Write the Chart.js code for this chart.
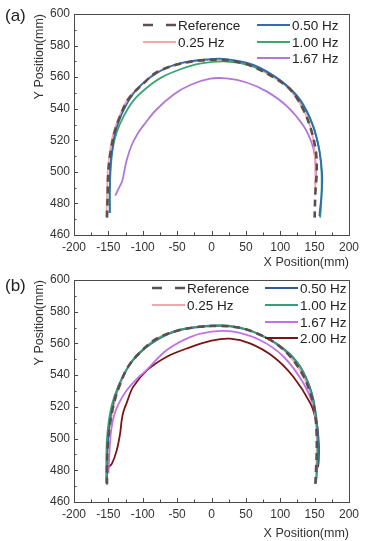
<!DOCTYPE html>
<html>
<head>
<meta charset="utf-8">
<script src="https://cdn.jsdelivr.net/npm/chart.js@4.4.1/dist/chart.umd.min.js"></script>
<style>
  body { margin: 0; background: #fff; }
  .panel { position: relative; width: 369px; }
  .tag { position: absolute; left: 5px; top: 6px; font: 17px "Liberation Sans", Arial, sans-serif; color: #222; }
</style>
</head>
<body>
<div class="panel" style="height:270px"><span class="tag">(a)</span><canvas id="chartA" width="369" height="270"></canvas></div>
<div class="panel" style="height:271px"><span class="tag">(b)</span><canvas id="chartB" width="369" height="271"></canvas></div>
<script>
// Axis ranges and ticks
const xRange = [-200, 200];
const yRange = [460, 600];
const xStep = 50;
const yStep = 20;

// Series labels
const labels = ['Reference', '0.25 Hz', '0.50 Hz', '1.00 Hz', '1.67 Hz', '2.00 Hz'];

// Panel (a) trajectories
const refXA = [-152, -151, -150, -147, -141, -135, -121, -99, -80, -50, -17, 13, 40, 61, 90, 115, 134, 146, 152, 153, 151, 150];
const refYA = [471, 485, 500, 512, 525, 533, 546, 556, 563, 568, 570.5, 571, 569.5, 566.5, 560, 552, 539, 525, 512, 500, 486, 471];
const hz025XA = [-153, -152, -151, -148, -143, -136, -122, -100, -80, -50, -17, 13, 40, 62, 90, 114, 133, 145, 150, 151, 151];
const hz025YA = [472, 485, 500, 512, 524, 533, 546, 556, 563, 568, 570.5, 571, 569.5, 566.5, 560, 552, 540, 527, 513, 500, 485];
const hz050XA = [-148, -148, -147, -144, -140, -128, -109, -80, -46, -2, 22, 61, 100, 129, 148, 157, 161, 160, 158, 157];
const hz050YA = [474, 490, 504, 515, 525, 539, 552, 562.5, 568.8, 571.4, 571.4, 567.8, 558, 545.7, 529, 513, 498, 485, 477, 472];
const hz100XA = [-148, -148, -147, -144, -138, -128, -114, -95, -72, -45, -17, 22, 61, 95, 124, 144, 156, 160, 160, 159, 158];
const hz100YA = [474, 488, 499, 514, 525, 535, 545, 553, 560, 565, 568.5, 569.9, 566.7, 559.4, 547.8, 533, 516, 500, 485, 476, 471];
const hz167XA = [-140, -135, -130, -127, -123, -116, -107, -97, -80, -55, -31, -2, 22, 51, 80, 110, 134, 146, 151, 152, 151];
const hz167YA = [485, 489.5, 494, 500, 508, 517, 524.5, 530.5, 539.5, 549, 555, 559, 559.2, 556.6, 551, 541.5, 529, 518, 508, 499, 492];

// Panel (b) trajectories
const refXB = [-152, -152, -151, -148, -142, -135, -121, -100, -80, -50, -17, 13, 40, 62, 90, 114, 133, 145, 151, 153, 153, 152, 151];
const refYB = [471, 480, 495, 508, 522, 532, 545.5, 556, 563, 568, 570.5, 571, 570, 567, 561, 552, 540, 527, 514, 502, 490, 480, 471];
const hz025XB = [-153, -152, -150, -147, -141, -134, -120, -100, -80, -50, -17, 13, 40, 62, 90, 114, 133, 145, 151, 153, 153, 152];
const hz025YB = [472, 485, 498, 510, 523, 533, 546, 556, 563, 568, 570.5, 571, 570, 567, 561, 552, 540, 527, 514, 502, 490, 478];
const hz050XB = [-152, -152, -150, -146, -140, -128, -110, -80, -45, 0, 25, 60, 100, 128, 145, 152, 155, 155, 153, 152];
const hz050YB = [475, 488, 502, 516, 527, 540, 551.5, 562, 568.5, 571, 571, 567.5, 558, 546, 530, 515, 500, 487, 478, 472];
const hz100XB = [-153, -153, -152, -148, -141, -128, -110, -80, -45, 0, 25, 60, 98, 125, 143, 151, 154, 154, 153, 152];
const hz100YB = [472, 486, 500, 515, 527, 540, 552, 562.5, 568.8, 571.4, 571.2, 567.5, 559, 548, 532, 516, 500, 487, 478, 472];
const hz167XB = [-150, -149, -148, -146, -142, -135, -124, -110, -95, -65, -31, 0, 32, 71, 105, 134, 148.5, 154, 154, 153];
const hz167YB = [478, 486, 495, 505, 514, 522, 530, 537, 543, 555.8, 564, 567.4, 567.4, 562, 551.6, 534.7, 520, 505, 490, 480];
const hz200XB = [-150, -145, -138, -133, -130.6, -128, -123, -114, -94, -65, -36, 0, 27, 56, 90, 119, 144, 153, 156, 156, 155];
const hz200YB = [482, 484, 492.4, 503, 511.6, 517, 523, 532.6, 543, 551.6, 556.8, 561.7, 563, 560, 551.6, 539, 522, 509.5, 497, 487, 482];

const FONT = '"Liberation Sans", Arial, sans-serif';

function pts(xs, ys) {
    return xs.map((x, i) => ({ x, y: ys[i] }));
}

function series(label, xs, ys, color, dash) {
    return {
        label,
        data: pts(xs, ys),
        showLine: true,
        borderColor: color,
        backgroundColor: color,
        borderWidth: dash ? 2.6 : 1.8,
        borderDash: dash || [],
        pointRadius: 0,
        tension: 0.35,
        fill: false
    };
}

// Box frame with inward major/minor ticks
const framePlugin = {
    id: 'frame',
    afterDraw(chart) {
        const { ctx, chartArea: a, scales } = chart;
        const xs = scales.x, ys = scales.y;
        ctx.save();
        ctx.strokeStyle = '#4a4a4a';
        ctx.lineWidth = 1;
        ctx.strokeRect(a.left + 0.5, a.top + 0.5, a.right - a.left, a.bottom - a.top);
        ctx.beginPath();
        for (let v = xRange[0]; v <= xRange[1]; v += xStep / 2) {
            const px = Math.round(xs.getPixelForValue(v)) + 0.5;
            const len = (v % xStep === 0) ? 4 : 2.5;
            ctx.moveTo(px, a.bottom);
            ctx.lineTo(px, a.bottom - len);
        }
        for (let v = yRange[0]; v <= yRange[1]; v += yStep / 2) {
            const py = Math.round(ys.getPixelForValue(v)) + 0.5;
            const len = (v % yStep === 0) ? 4 : 2.5;
            ctx.moveTo(a.left, py);
            ctx.lineTo(a.left + len, py);
        }
        ctx.stroke();
        ctx.restore();
    }
};

// Two column legend inside the plot
const legendPlugin = {
    id: 'boxLegend',
    afterDraw(chart, args, opts) {
        const ctx = chart.ctx;
        ctx.save();
        ctx.font = '13.5px ' + FONT;
        ctx.textBaseline = 'middle';
        ctx.fillStyle = '#222';
        opts.slots.forEach(slot => {
            const ds = chart.data.datasets.find(d => d.label === slot.label);
            ctx.beginPath();
            ctx.strokeStyle = ds.borderColor;
            ctx.lineWidth = ds.borderDash.length ? 2.6 : 1.8;
            ctx.setLineDash(ds.borderDash.length ? [10, 13] : []);
            ctx.moveTo(slot.x, slot.y);
            ctx.lineTo(slot.x + 33, slot.y);
            ctx.stroke();
            ctx.setLineDash([]);
            ctx.fillText(slot.label, slot.x + 35, slot.y + 1);
        });
        ctx.restore();
    }
};

function makeChart(id, datasets, top, bottom, canvasH, slots) {
    return new Chart(document.getElementById(id), {
        type: 'scatter',
        data: { datasets },
        plugins: [framePlugin, legendPlugin],
        options: {
            responsive: false,
            animation: false,
            events: [],
            layout: { padding: { left: 32, top, right: 20, bottom: 0 } },
            plugins: {
                legend: { display: false },
                tooltip: { enabled: false },
                boxLegend: { slots }
            },
            scales: {
                x: {
                    min: xRange[0], max: xRange[1],
                    grid: { display: false, drawTicks: false },
                    border: { display: false },
                    ticks: { stepSize: xStep, padding: 5, color: '#333', font: { family: FONT, size: 12 } },
                    title: { display: true, text: 'X Position(mm)', align: 'end', color: '#333', padding: { top: 0, bottom: 0 }, font: { family: FONT, size: 12.5 } },
                    afterFit(s) { s.height = canvasH - bottom; s.paddingLeft = 0; s.paddingRight = 0; }
                },
                y: {
                    min: yRange[0], max: yRange[1],
                    grid: { display: false, drawTicks: false },
                    border: { display: false },
                    ticks: { stepSize: yStep, padding: 4, color: '#333', font: { family: FONT, size: 12 } },
                    title: { display: true, text: 'Y Position(mm)', align: 'end', color: '#333', padding: { top: 0, bottom: 0 }, font: { family: FONT, size: 12.5 } },
                    afterFit(s) { s.width = 42; s.paddingTop = 0; s.paddingBottom = 0; }
                }
            }
        }
    });
}

const DASH = [7, 5];

makeChart('chartA', [
    series(labels[0], refXA, refYA, '#5a5050', DASH),
    series(labels[2], hz050XA, hz050YA, '#2d6cb8'),
    series(labels[3], hz100XA, hz100YA, '#3aa672'),
    series(labels[1], hz025XA, hz025YA, '#f2a7ad'),
    series(labels[4], hz167XA, hz167YA, '#b277d6')
], 14, 235, 270, [
    { label: labels[0], x: 143, y: 25 },
    { label: labels[2], x: 257, y: 25 },
    { label: labels[1], x: 143, y: 42 },
    { label: labels[3], x: 257, y: 42 },
    { label: labels[4], x: 257, y: 58 }
]);

makeChart('chartB', [
    series(labels[0], refXB, refYB, '#5a5050', DASH),
    series(labels[3], hz100XB, hz100YB, '#3a9f78'),
    series(labels[2], hz050XB, hz050YB, '#2c5d96'),
    series(labels[1], hz025XB, hz025YB, '#f2a7ad'),
    series(labels[4], hz167XB, hz167YB, '#c072e6'),
    series(labels[5], hz200XB, hz200YB, '#7a1414')
], 10, 232, 271, [
    { label: labels[0], x: 152, y: 18 },
    { label: labels[2], x: 265, y: 18 },
    { label: labels[1], x: 152, y: 35 },
    { label: labels[3], x: 265, y: 35 },
    { label: labels[4], x: 265, y: 52 },
    { label: labels[5], x: 265, y: 68 }
]);
</script>
</body>
</html>
